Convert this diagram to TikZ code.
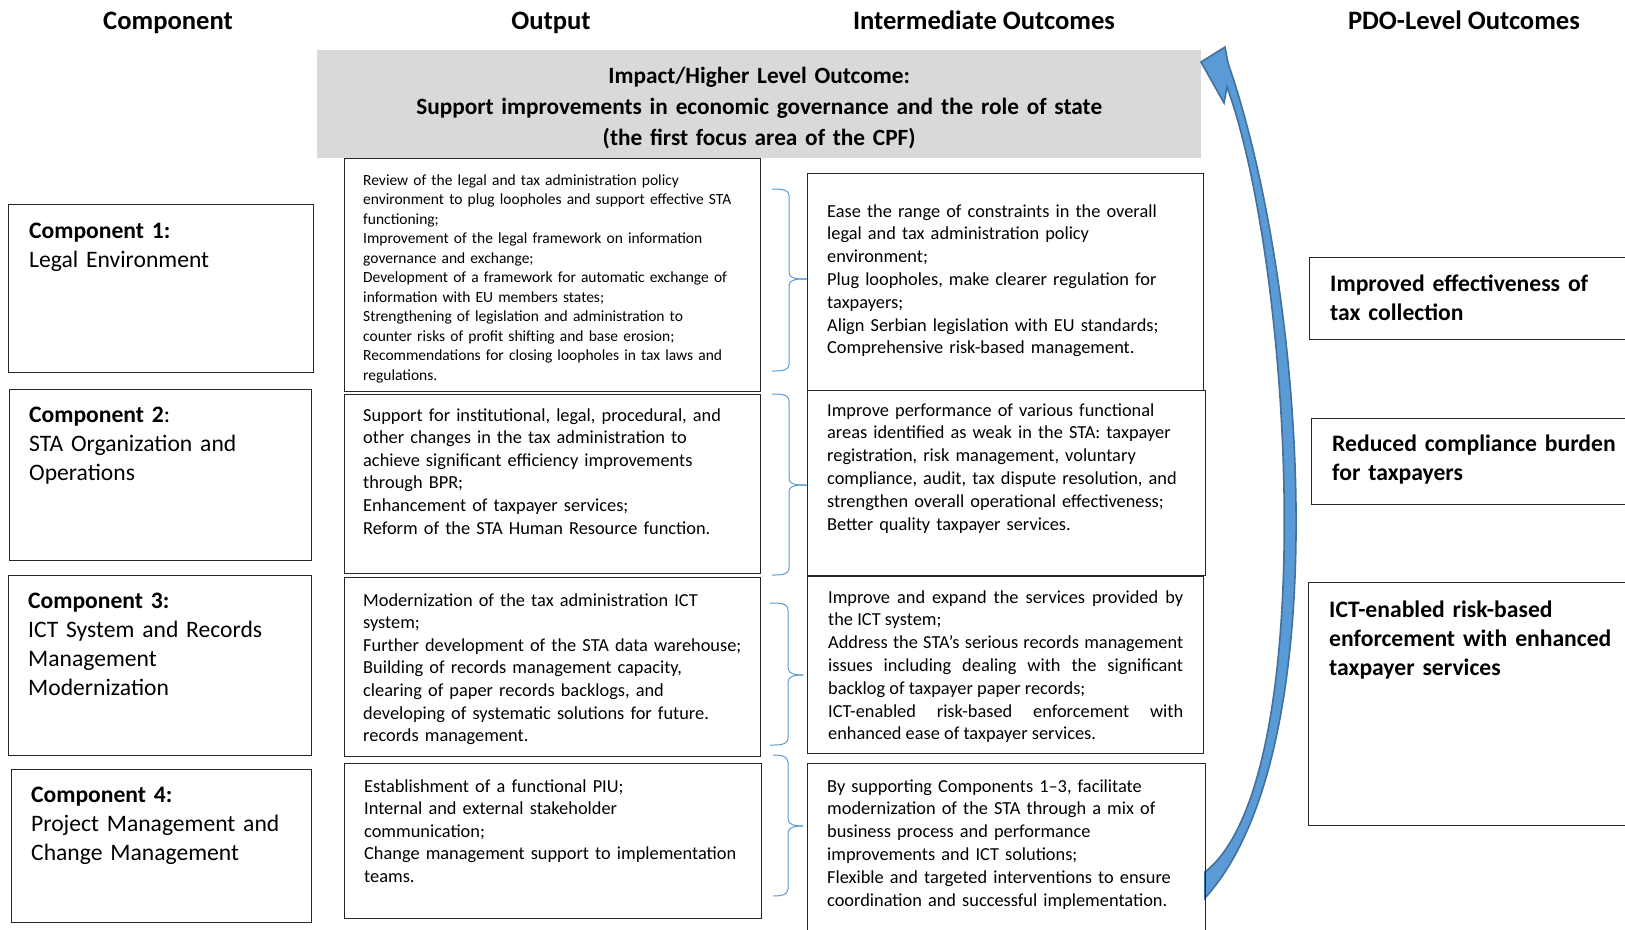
\documentclass[tikz,border=0pt]{standalone}
\usepackage{fontspec}
\setmainfont{Carlito}
\definecolor{arrowfill}{HTML}{5B9BD5}
\definecolor{arrowdraw}{HTML}{41719C}
\definecolor{bracecol}{HTML}{5B9BD5}
\definecolor{graybox}{HTML}{D9D9D9}
\begin{document}
\begin{tikzpicture}[x=1pt,y=-1pt,
  box/.style={draw=black!85,line width=1.2pt,anchor=north west,inner sep=0pt},
  txt/.style={anchor=base west,inner sep=0pt,text width=390pt,align=left},
  hdr/.style={anchor=base,inner sep=0pt,font=\fontsize{26.6}{32}\selectfont\bfseries},
  comp/.style={txt,text width=285pt,font=\fontsize{23.6}{29}\selectfont},
  pdo/.style={txt,text width=300pt,font=\fontsize{23.65}{29}\selectfont\bfseries},
  smalltxt/.style={txt,font=\fontsize{15.5}{19.5}\selectfont},
  midtxt/.style={txt,font=\fontsize{18.35}{22.6}\selectfont},
  itxt/.style={txt,font=\fontsize{18.35}{22.8}\selectfont},
  brace/.style={draw=bracecol,line width=1pt}]
\useasboundingbox (0,0) rectangle (1625,929);
\fill[white] (0,0) rectangle (1625,929);

% headers
\node[hdr] (h1) at (168,29) {Component};
\node[hdr] (h2) at (551,29) {Output};
\node[hdr] (h3) at (984,29) {Intermediate Outcomes};
\node[hdr] (h4) at (1464,29) {PDO-Level Outcomes};

% impact box
\node[anchor=north west,inner sep=0pt,fill=graybox,minimum width=884pt,minimum height=108pt] (imp) at (317,50) {};
\node[anchor=base,inner sep=0pt,text width=884pt,align=center,font=\fontsize{23.3}{31}\selectfont\bfseries] (impt) at (imp.north |- 0,83)
  {Impact/Higher Level Outcome:\\Support improvements in economic governance and the role of state\\(the first focus area of the CPF)};

% arrow
\coordinate (atip) at (1201,62);
\filldraw[fill=arrowfill,draw=arrowdraw,line width=1.6pt,line join=miter]
  (atip) -- (1225,47) -- (1228,63) .. controls (1305,285) and (1340,750) .. (1205,898)
  -- (1205,872) .. controls (1322,780) and (1292,265) .. (1227,87) -- (1224,103) -- cycle;

% component boxes
\node[box,minimum width=305pt,minimum height=168pt] (c1) at (8,204) {};
\node[box,minimum width=302pt,minimum height=171pt] (c2) at (9,389) {};
\node[box,minimum width=303pt,minimum height=180pt] (c3) at (8,575) {};
\node[box,minimum width=300pt,minimum height=153pt] (c4) at (11,769) {};
\node[comp] (c1t) at (29,238) {\textbf{Component 1:}\\Legal Environment};
\node[comp] (c2t) at (29,422) {\textbf{Component 2}:\\STA Organization and\\Operations};
\node[comp] (c3t) at (28,608) {\textbf{Component 3:}\\ICT System and Records\\Management\\Modernization};
\node[comp] (c4t) at (31,802) {\textbf{Component 4:}\\Project Management and\\Change Management};

% output boxes
\node[box,minimum width=416pt,minimum height=233pt] (o1) at (344,158) {};
\node[box,minimum width=416pt,minimum height=179pt] (o2) at (344,394) {};
\node[box,minimum width=416pt,minimum height=179pt] (o3) at (344,577) {};
\node[box,minimum width=417pt,minimum height=155pt] (o4) at (344,763) {};
\node[smalltxt] (o1t) at (363,185) {Review of the legal and tax administration policy\\
environment to plug loopholes and support effective STA\\
functioning;\\
Improvement of the legal framework on information\\
governance and exchange;\\
Development of a framework for automatic exchange of\\
information with EU members states;\\
Strengthening of legislation and administration to\\
counter risks of profit shifting and base erosion;\\
Recommendations for closing loopholes in tax laws and\\
regulations.};
\node[midtxt] (o2t) at (363,421) {Support for institutional, legal, procedural, and\\
other changes in the tax administration to\\
achieve significant efficiency improvements\\
through BPR;\\
Enhancement of taxpayer services;\\
Reform of the STA Human Resource function.};
\node[midtxt] (o3t) at (363,606) {Modernization of the tax administration ICT\\
system;\\
Further development of the STA data warehouse;\\
Building of records management capacity,\\
clearing of paper records backlogs, and\\
developing of systematic solutions for future.\\
records management.};
\node[midtxt] (o4t) at (364,792) {Establishment of a functional PIU;\\
Internal and external stakeholder\\
communication;\\
Change management support to implementation\\
teams.};

% intermediate boxes
\node[box,minimum width=396pt,minimum height=217pt] (i1) at (807,173) {};
\node[box,minimum width=398pt,minimum height=185pt] (i2) at (807,390) {};
\node[box,minimum width=396pt,minimum height=177pt] (i3) at (807,576) {};
\node[box,minimum width=398pt,minimum height=180pt] (i4) at (807,763) {};
\node[itxt] (i1t) at (827,217) {Ease the range of constraints in the overall\\
legal and tax administration policy\\
environment;\\
Plug loopholes, make clearer regulation for\\
taxpayers;\\
Align Serbian legislation with EU standards;\\
Comprehensive risk-based management.};
\node[itxt] (i2t) at (827,416) {Improve performance of various functional\\
areas identified as weak in the STA: taxpayer\\
registration, risk management, voluntary\\
compliance, audit, tax dispute resolution, and\\
strengthen overall operational effectiveness;\\
Better quality taxpayer services.};
\node[anchor=base west,inner sep=0pt,text width=355pt,align=justify,font=\fontsize{18.35}{22.8}\selectfont] (i3t) at (828,603)
{Improve and expand the services provided by\linebreak
the ICT system;\\
Address the STA’s serious records management\linebreak
issues including dealing with the significant\linebreak
backlog of taxpayer paper records;\\
ICT-enabled risk-based enforcement with\linebreak
enhanced ease of taxpayer services.};
\node[itxt] (i4t) at (827,792) {By supporting Components 1–3, facilitate\\
modernization of the STA through a mix of\\
business process and performance\\
improvements and ICT solutions;\\
Flexible and targeted interventions to ensure\\
coordination and successful implementation.};

% PDO boxes
\node[box,minimum width=330pt,minimum height=82pt] (p1) at (1309,257) {};
\node[box,minimum width=330pt,minimum height=86pt] (p2) at (1311,418) {};
\node[box,minimum width=330pt,minimum height=243pt] (p3) at (1308,582) {};
\node[pdo] (p1t) at (1330,291) {Improved effectiveness of\\tax collection};
\node[pdo] (p2t) at (1332,451) {Reduced compliance burden\\for taxpayers};
\node[pdo] (p3t) at (1329,617) {ICT-enabled risk-based\\enforcement with enhanced\\taxpayer services};

% braces
\coordinate (b1) at (i1.west |- 0,279);
\draw[brace] (772,189) to[out=0,in=90] (789,196) -- (789,272) to[out=-90,in=180] (b1);
\draw[brace] (b1) to[out=180,in=90] (789,286) -- (789,364) to[out=-90,in=0] (772,371);
\coordinate (b2) at (i2.west |- 0,485);
\draw[brace] (772,394) to[out=0,in=90] (789,401) -- (789,478) to[out=-90,in=180] (b2);
\draw[brace] (b2) to[out=180,in=90] (789,492) -- (789,568) to[out=-90,in=0] (772,575);
\coordinate (b3) at (803,675);
\draw[brace] (770,603) to[out=0,in=90] (788,610) -- (788,668) to[out=-90,in=180] (b3);
\draw[brace] (b3) to[out=180,in=90] (788,682) -- (788,738) to[out=-90,in=0] (770,745);
\coordinate (b4) at (803,826);
\draw[brace] (773,755) to[out=0,in=90] (788,762) -- (788,819) to[out=-90,in=180] (b4);
\draw[brace] (b4) to[out=180,in=90] (788,833) -- (788,889) to[out=-90,in=0] (773,896);
\end{tikzpicture}
\end{document}
